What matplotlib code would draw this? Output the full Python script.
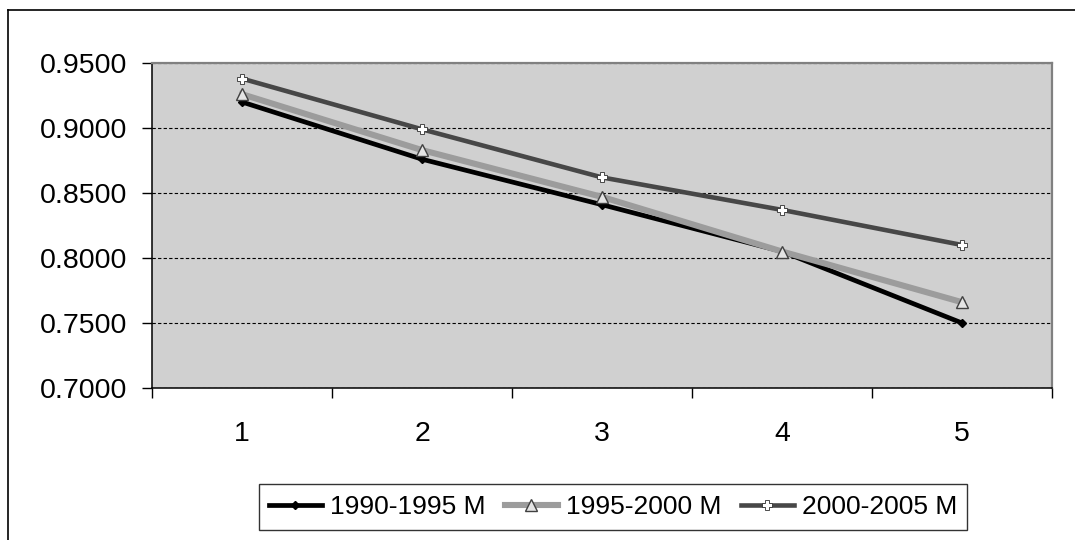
import matplotlib
matplotlib.use('Agg')
import matplotlib.pyplot as plt
from matplotlib.lines import Line2D

plt.rcParams['font.family'] = ['Liberation Sans', 'DejaVu Sans']

# data
periods = [1, 2, 3, 4, 5]
series_names = ['1990-1995 M', '1995-2000 M', '2000-2005 M']
vals_1990 = [0.920, 0.876, 0.841, 0.805, 0.750]
vals_1995 = [0.926, 0.883, 0.847, 0.805, 0.766]
vals_2000 = [0.938, 0.899, 0.862, 0.837, 0.810]
y_ticks = [0.70, 0.75, 0.80, 0.85, 0.90, 0.95]

W, H = 1075, 540
fig = plt.figure(figsize=(W / 100, H / 100), dpi=100)
ax = fig.add_axes([152 / W, 1 - 388 / H, (1052 - 152) / W, (388 - 63) / H])
ax.set_facecolor('#D0D0D0')

# outer chart border (only top and left visible in the crop)
fig.add_artist(Line2D([8 / W, 1.0], [1 - 10 / H, 1 - 10 / H], color='black', lw=1.2,
                      transform=fig.transFigure))
fig.add_artist(Line2D([8 / W, 8 / W], [1 - 10 / H, 0.0], color='black', lw=1.2,
                      transform=fig.transFigure))

ax.plot(periods, vals_1990, color='black', lw=3.4, marker='D', ms=4,
        mfc='black', mec='black', label=series_names[0], zorder=3)
ax.plot(periods, vals_1995, color='#9C9C9C', lw=4.4, marker='^', ms=9,
        mfc='#E4E4E4', mec='#404040', mew=1.0, label=series_names[1], zorder=3)
ax.plot(periods, vals_2000, color='#474747', lw=3.3, marker='P', ms=7,
        mfc='white', mec='#303030', mew=0.6, label=series_names[2], zorder=4)

ax.set_xlim(0.5, 5.5)
ax.set_ylim(0.70, 0.95)

# category axis: ticks on boundaries, labels at centres
ax.set_xticks([0.5, 1.5, 2.5, 3.5, 4.5, 5.5])
ax.set_xticklabels([])
ax.set_xticks(periods, minor=True)
ax.set_xticklabels([str(p) for p in periods], minor=True, fontsize=20.5)
ax.tick_params(axis='x', which='major', direction='out', length=7, width=1, color='black')
ax.tick_params(axis='x', which='minor', length=0, pad=24)

ax.set_yticks(y_ticks)
ax.set_yticklabels(['%.4f' % v for v in y_ticks], fontsize=20.5)
ax.tick_params(axis='y', direction='out', length=7, width=1, pad=11)

ax.yaxis.grid(True, color='black', lw=0.8, linestyle=(0, (3, 2)))
ax.set_axisbelow(True)

for side in ['top', 'right']:
    ax.spines[side].set_color('#808080')
    ax.spines[side].set_linewidth(1.6)
for side in ['left', 'bottom']:
    ax.spines[side].set_color('black')
    ax.spines[side].set_linewidth(1.1)

leg = fig.legend(loc='center', bbox_to_anchor=(613 / W, 1 - 507 / H), ncol=3,
                 fontsize=19, frameon=True, fancybox=False, handlelength=2.0,
                 handletextpad=0.3, columnspacing=0.75, borderpad=0.4)
leg.get_frame().set_edgecolor('black')
leg.get_frame().set_linewidth(1.0)

fig.savefig('out.png', dpi=100)
